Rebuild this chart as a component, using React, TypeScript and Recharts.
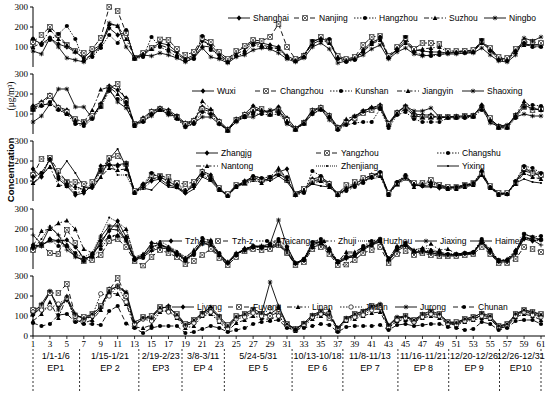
import React from "react";
import { LineChart, Line, XAxis, YAxis } from "recharts";

// x categories (day index) and ticks
const days = [
  1, 2, 3, 4, 5, 6, 7, 8, 9, 10, 11, 12, 13, 14, 15, 16, 17, 18, 19, 20, 21, 22, 23, 24, 25, 26, 27, 28, 29, 30,
  31, 32, 33, 34, 35, 36, 37, 38, 39, 40, 41, 42, 43, 44, 45, 46, 47, 48, 49, 50, 51, 52, 53, 54, 55, 56, 57, 58,
  59, 60, 61,
];
const oddTicks = [
  1, 3, 5, 7, 9, 11, 13, 15, 17, 19, 21, 23, 25, 27, 29, 31, 33, 35, 37, 39, 41, 43, 45, 47, 49, 51, 53, 55, 57, 59, 61,
];
const yTicks = [0, 100, 200, 300];

// episode separators and labels (bottom axis); edges 1 and 61 are drawn with the day ticks
const epSeparators = [6.5, 13.5, 18.6, 23.6, 31.6, 37.6, 44.1, 50.1, 56.1];
const epCenters = [3.7, 10.1, 16.1, 21.1, 27.6, 34.6, 40.8, 47.1, 53.1, 58.6];
const epDates = [
  "1/1-1/6", "1/15-1/21", "2/19-2/23", "3/8-3/11", "5/24-5/31",
  "10/13-10/18", "11/8-11/13", "11/16-11/21", "12/20-12/26", "12/26-12/31",
];
const epNames = ["EP1", "EP 2", "EP3", "EP 4", "EP 5", "EP 6", "EP 7", "EP 8", "EP 9", "EP10"];

// panel 1
const shanghai = [140,115,145,115,100,75,45,85,110,195,160,175,45,55,95,120,110,75,40,60,130,110,65,30,75,100,125,120,110,100,55,35,60,125,145,125,45,35,45,85,125,140,50,90,130,85,80,75,75,70,75,80,80,125,90,45,40,85,115,110,115];
const nanjing = [125,160,200,160,110,80,70,90,145,300,280,170,45,70,95,138,135,90,60,75,145,125,75,40,80,105,135,130,150,215,100,40,55,125,150,130,55,40,50,110,150,155,55,100,145,90,120,120,115,80,80,80,85,130,95,50,45,90,125,125,120];
const hangzhou = [140,110,135,165,205,140,30,50,95,160,120,185,40,50,150,100,80,50,30,40,155,85,60,25,55,70,110,100,95,95,45,30,50,130,140,140,40,25,35,75,115,150,45,90,150,75,60,55,60,70,70,70,75,135,80,35,30,80,120,100,100];
const suzhou = [100,120,185,140,110,80,40,60,100,215,205,140,50,65,90,110,95,65,35,50,105,100,50,25,65,85,120,110,100,90,50,30,55,115,135,120,50,30,40,80,115,135,50,85,120,80,90,95,100,75,75,75,75,120,85,40,35,75,110,105,105];
const ningbo = [80,65,145,100,45,35,25,70,105,220,205,100,45,60,55,70,60,45,25,45,95,50,40,20,50,60,85,95,90,70,40,25,45,100,120,90,20,30,40,60,90,110,40,75,95,65,55,60,65,65,65,70,70,95,60,30,25,60,145,130,150];

// panel 2
const wuxi = [140,160,195,135,120,55,50,85,150,240,220,180,45,80,115,130,120,90,55,70,135,120,65,25,75,100,140,120,110,135,80,30,60,120,135,95,35,55,85,115,130,145,55,110,140,100,95,95,80,85,85,85,90,145,75,40,40,95,145,125,120];
const changzhou = [125,150,190,130,110,75,60,90,140,230,250,165,50,70,110,125,110,85,50,65,125,110,60,20,70,95,120,125,100,120,70,25,55,115,130,90,30,60,80,105,120,135,50,105,130,90,85,85,85,85,85,90,90,130,80,35,35,90,135,120,125];
const kunshan = [120,140,160,120,100,50,40,75,135,215,175,160,45,60,100,120,100,75,35,50,110,100,50,15,65,90,100,100,95,100,55,20,50,100,120,85,20,45,55,60,60,125,30,95,110,75,60,60,60,80,80,80,85,120,65,30,30,80,135,145,140];
const jiangyin = [135,145,150,125,100,70,60,120,222,235,200,150,40,65,100,120,115,80,45,60,165,125,55,20,70,85,115,120,100,115,65,25,55,115,125,90,25,75,90,115,135,140,45,100,125,95,85,85,85,85,85,90,90,140,70,35,35,95,165,130,120];
const shaoxing = [60,90,150,225,225,135,135,80,150,225,160,130,50,65,90,125,95,90,35,55,85,85,50,20,60,85,85,105,120,120,50,25,55,100,125,70,30,50,90,115,130,130,45,105,140,115,115,130,85,85,90,90,95,135,55,40,45,85,100,90,90];

// panel 3
const zhangjg = [160,120,215,110,75,30,40,80,175,180,180,190,45,85,100,110,80,70,40,90,150,130,60,30,75,100,120,100,110,145,160,30,55,110,120,90,30,60,85,110,130,140,35,90,120,80,75,75,65,65,65,75,85,145,70,35,35,95,150,140,125];
const yangzhou = [130,210,215,150,95,95,85,95,150,215,225,185,50,70,130,125,120,90,85,95,145,110,65,35,80,90,110,105,115,140,105,35,60,100,110,85,35,80,95,115,125,135,40,85,115,90,90,105,80,70,70,80,90,135,75,40,40,90,165,140,130];
const changshu = [120,140,210,120,85,40,50,70,150,180,175,185,40,80,140,120,95,80,50,80,130,105,60,25,75,95,125,115,120,130,120,30,40,150,125,80,30,50,70,90,120,145,35,95,130,80,75,85,75,65,70,80,90,150,70,35,35,100,175,165,140];
const nantong = [90,130,170,80,75,75,55,75,120,165,155,160,40,75,110,120,100,70,45,75,140,120,55,25,70,90,115,90,120,165,110,30,50,90,100,70,30,60,80,100,120,125,30,85,120,70,85,95,70,60,60,70,80,130,65,30,35,85,140,120,110];
const zhenjiang = [110,145,200,130,100,60,60,85,160,200,130,130,45,60,100,130,110,85,60,85,145,120,60,30,70,85,100,95,105,150,110,35,55,95,110,80,40,70,90,105,110,120,40,80,110,85,85,95,80,70,65,75,85,140,70,35,40,95,165,150,135];
const yixing = [85,125,175,140,200,140,70,60,120,210,260,170,50,65,55,100,70,65,35,60,120,100,55,30,75,90,125,115,100,125,95,40,60,85,75,70,35,60,75,95,125,145,40,100,120,90,70,70,70,70,70,80,85,130,65,35,40,90,110,95,90];

// panel 4
const tzhJ = [120,115,150,140,145,110,55,60,140,190,240,160,50,70,130,125,100,75,45,80,140,110,60,25,75,100,115,110,110,130,85,25,45,120,135,90,30,55,60,100,125,140,45,100,120,85,85,90,80,70,70,75,80,140,85,40,40,80,150,140,150];
const tzhZ = [95,120,80,75,196,130,40,45,70,140,150,110,40,17,60,95,80,60,25,40,70,100,55,20,60,90,100,95,100,120,80,20,35,100,110,75,20,22,45,80,95,110,30,75,90,70,80,70,65,65,65,70,75,110,75,30,30,50,110,100,85];
const taicang = [110,120,145,115,115,80,40,60,100,160,165,150,45,55,110,120,95,70,40,70,155,140,80,30,70,95,110,105,125,150,110,30,50,135,150,100,40,60,70,115,140,150,55,110,130,90,95,90,85,75,75,80,85,150,95,45,45,90,175,160,165];
const zhuji = [115,190,200,229,242,199,100,80,120,165,170,200,55,75,95,115,110,85,55,95,150,145,70,35,70,105,110,110,120,145,105,30,45,110,130,105,35,85,85,110,120,140,50,115,120,95,105,126,95,100,75,80,85,135,100,40,50,95,160,150,150];
const huzhou = [100,150,215,170,125,75,60,80,170,257,235,200,60,75,120,140,115,90,60,90,130,120,65,30,80,100,115,110,115,135,90,30,50,125,140,95,35,70,85,110,130,145,45,105,125,95,105,100,85,75,75,80,85,140,90,40,45,90,155,145,140];
const jiaxing = [105,120,140,140,115,60,45,70,160,215,215,140,50,65,110,125,105,80,50,80,125,125,70,30,75,95,115,115,125,245,113,30,50,130,135,90,35,60,70,105,125,150,45,100,130,85,85,80,75,70,75,80,80,140,85,45,40,85,175,160,145];
const haimei = [170,125,210,170,95,65,40,75,125,200,195,140,45,60,90,105,100,75,45,75,140,130,75,35,80,90,110,115,110,120,80,25,45,110,120,85,30,50,70,95,120,135,40,90,115,80,90,80,70,70,70,75,80,130,80,35,35,75,160,145,120];

// panel 5
const liyang = [105,145,220,150,180,100,90,95,140,235,245,215,55,85,100,135,150,100,50,70,115,140,90,40,95,105,120,105,110,140,55,35,60,95,115,100,40,85,100,115,140,155,50,90,95,75,100,115,105,65,60,80,85,105,95,45,55,105,125,110,100];
const fuyang = [130,150,215,215,260,100,95,110,150,230,290,200,50,95,100,145,140,110,60,80,110,130,95,55,100,110,130,110,100,120,60,35,60,100,120,90,30,85,110,120,150,150,45,85,100,80,105,120,110,70,70,85,95,110,100,50,60,110,130,120,110];
const linan = [75,110,170,90,200,80,65,80,130,215,210,160,45,40,55,120,130,90,40,50,100,110,70,25,65,80,100,90,80,105,45,25,50,85,100,128,30,75,85,100,115,120,40,75,80,70,90,100,90,60,55,70,80,90,85,40,45,95,110,100,80];
const jintan = [120,130,140,160,190,75,80,100,211,200,250,170,60,85,75,130,120,95,50,65,105,120,75,35,85,95,115,100,140,100,50,30,55,95,110,100,35,80,95,105,130,140,40,80,90,70,95,110,100,60,55,75,85,100,90,40,50,100,120,105,95];
const jurong = [110,160,225,130,195,110,85,110,145,225,250,220,70,90,90,140,145,105,55,80,115,145,100,50,95,110,135,115,270,150,60,35,65,105,125,105,40,90,110,125,150,160,55,95,100,80,110,125,110,70,65,85,95,115,100,50,60,110,130,120,105];
const chunan = [65,50,60,105,110,70,60,60,55,125,150,62,40,15,40,50,50,50,15,20,35,50,40,20,30,40,60,70,75,80,40,30,40,50,60,55,20,45,50,50,50,55,30,55,60,50,55,60,60,45,40,30,35,70,60,30,40,75,80,80,60];

type Shape = "diamond" | "square" | "circle" | "triangle" | "star" | "plus" | "ring" | "dot";
type Series = { name: string; values: number[]; dash?: string; shape: Shape; lx: number; ly: number };

const SOLID = undefined;
const DASH = "5 3";
const DOT = "1.5 1.5";
const DASHDOT = "5 2 1.5 2";
const FINEDOT = "1 1";

const panels: { top: number; series: Series[] }[] = [
  {
    top: 7,
    series: [
      { name: "Shanghai", values: shanghai, dash: SOLID, shape: "diamond", lx: 228, ly: 18 },
      { name: "Nanjing", values: nanjing, dash: DASH, shape: "square", lx: 294, ly: 18 },
      { name: "Hangzhou", values: hangzhou, dash: DOT, shape: "circle", lx: 354, ly: 18 },
      { name: "Suzhou", values: suzhou, dash: DASHDOT, shape: "triangle", lx: 424, ly: 18 },
      { name: "Ningbo", values: ningbo, dash: SOLID, shape: "star", lx: 484, ly: 18 },
    ],
  },
  {
    top: 74,
    series: [
      { name: "Wuxi", values: wuxi, dash: SOLID, shape: "diamond", lx: 192, ly: 91 },
      { name: "Changzhou", values: changzhou, dash: DASH, shape: "square", lx: 255, ly: 91 },
      { name: "Kunshan", values: kunshan, dash: DOT, shape: "circle", lx: 330, ly: 91 },
      { name: "Jiangyin", values: jiangyin, dash: DASHDOT, shape: "triangle", lx: 397, ly: 91 },
      { name: "Shaoxing", values: shaoxing, dash: SOLID, shape: "star", lx: 462, ly: 91 },
    ],
  },
  {
    top: 141,
    series: [
      { name: "Zhangjg", values: zhangjg, dash: SOLID, shape: "diamond", lx: 196, ly: 153 },
      { name: "Yangzhou", values: yangzhou, dash: DASH, shape: "square", lx: 316, ly: 153 },
      { name: "Changshu", values: changshu, dash: DOT, shape: "circle", lx: 437, ly: 153 },
      { name: "Nantong", values: nantong, dash: DASHDOT, shape: "triangle", lx: 196, ly: 166 },
      { name: "Zhenjiang", values: zhenjiang, dash: FINEDOT, shape: "dot", lx: 316, ly: 166 },
      { name: "Yixing", values: yixing, dash: SOLID, shape: "dot", lx: 437, ly: 166 },
    ],
  },
  {
    top: 209,
    series: [
      { name: "Tzh-j", values: tzhJ, dash: SOLID, shape: "diamond", lx: 160, ly: 241 },
      { name: "Tzh-z", values: tzhZ, dash: DASH, shape: "square", lx: 207, ly: 241 },
      { name: "Taicang", values: taicang, dash: DOT, shape: "circle", lx: 256, ly: 241 },
      { name: "Zhuji", values: zhuji, dash: DASHDOT, shape: "triangle", lx: 313, ly: 241 },
      { name: "Huzhou", values: huzhou, dash: FINEDOT, shape: "dot", lx: 358, ly: 241 },
      { name: "Jiaxing", values: jiaxing, dash: SOLID, shape: "star", lx: 415, ly: 241 },
      { name: "Haimei", values: haimei, dash: SOLID, shape: "plus", lx: 470, ly: 241 },
    ],
  },
  {
    top: 276,
    series: [
      { name: "Liyang", values: liyang, dash: SOLID, shape: "diamond", lx: 172, ly: 307 },
      { name: "Fuyang", values: fuyang, dash: DASH, shape: "square", lx: 228, ly: 307 },
      { name: "Linan", values: linan, dash: DASHDOT, shape: "triangle", lx: 287, ly: 307 },
      { name: "Jintan", values: jintan, dash: DOT, shape: "ring", lx: 340, ly: 307 },
      { name: "Jurong", values: jurong, dash: SOLID, shape: "star", lx: 395, ly: 307 },
      { name: "Chunan", values: chunan, dash: DASH, shape: "circle", lx: 453, ly: 307 },
    ],
  },
];

const PLOT_H = 60;
const BOTTOM_AXIS_H = 57;
const SERIF = "'Liberation Serif', 'Times New Roman', serif";
const SANS = "'Liberation Sans', Arial, sans-serif";
const TICK_FONT = { fontSize: 9, fill: "#000", fontFamily: SERIF };

function Marker({ shape, cx, cy }: { shape: Shape; cx: number; cy: number }) {
  const s = 2.3;
  switch (shape) {
    case "diamond":
      return <polygon points={`${cx},${cy - s - 0.5} ${cx + s},${cy} ${cx},${cy + s + 0.5} ${cx - s},${cy}`} fill="#000" />;
    case "square":
      return (
        <g stroke="#000" strokeWidth={0.6}>
          <rect x={cx - s} y={cy - s} width={2 * s} height={2 * s} fill="#fff" />
          <line x1={cx - s} y1={cy - s} x2={cx + s} y2={cy + s} />
          <line x1={cx - s} y1={cy + s} x2={cx + s} y2={cy - s} />
        </g>
      );
    case "circle":
      return <circle cx={cx} cy={cy} r={2.1} fill="#000" />;
    case "ring":
      return <circle cx={cx} cy={cy} r={2.2} fill="#fff" stroke="#000" strokeWidth={0.7} />;
    case "triangle":
      return <polygon points={`${cx},${cy - s - 0.3} ${cx + s},${cy + s - 0.3} ${cx - s},${cy + s - 0.3}`} fill="#000" />;
    case "star":
      return (
        <g stroke="#000" strokeWidth={0.8}>
          <line x1={cx - s} y1={cy} x2={cx + s} y2={cy} />
          <line x1={cx} y1={cy - s} x2={cx} y2={cy + s} />
          <line x1={cx - s * 0.75} y1={cy - s * 0.75} x2={cx + s * 0.75} y2={cy + s * 0.75} />
          <line x1={cx - s * 0.75} y1={cy + s * 0.75} x2={cx + s * 0.75} y2={cy - s * 0.75} />
        </g>
      );
    case "plus":
      return (
        <g stroke="#000" strokeWidth={0.8}>
          <line x1={cx - s} y1={cy} x2={cx + s} y2={cy} />
          <line x1={cx} y1={cy - s} x2={cx} y2={cy + s} />
        </g>
      );
    default:
      return <circle cx={cx} cy={cy} r={1.1} fill="#000" />;
  }
}

// bottom axis: day numbers, episode dates/names and dashed separators
function BottomTick(props: any) {
  const { x, y, payload } = props;
  const v = payload.value;
  const ci = epCenters.indexOf(v);
  if (ci >= 0) {
    return (
      <g fontFamily={SANS} fontSize={9} fill="#000" textAnchor="middle">
        <text x={x} y={y + 23}>{epDates[ci]}</text>
        <text x={x} y={y + 35}>{epNames[ci]}</text>
      </g>
    );
  }
  if (epSeparators.indexOf(v) >= 0) {
    return <line x1={x} y1={y + 13} x2={x} y2={y + 57} stroke="#000" strokeWidth={0.8} strokeDasharray="2 2" />;
  }
  const edge = v === 1 || v === 61;
  return (
    <g>
      <line x1={x} y1={y} x2={x} y2={y + 3} stroke="#000" strokeWidth={0.8} />
      <text x={x} y={y + 11} textAnchor="middle" fontSize={9} fontFamily={SERIF} fill="#000">
        {v}
      </text>
      {edge && <line x1={x} y1={y + 13} x2={x} y2={y + 57} stroke="#000" strokeWidth={0.8} strokeDasharray="2 2" />}
    </g>
  );
}

function Panel({ top, series, bottom }: { top: number; series: Series[]; bottom: boolean }) {
  const data = days.map((d, i) => {
    const row: Record<string, number> = { day: d };
    series.forEach((s) => (row[s.name] = s.values[i]));
    return row;
  });
  const height = bottom ? 5 + PLOT_H + BOTTOM_AXIS_H : 5 + PLOT_H + 3;
  return (
    <div style={{ position: "absolute", left: 0, top: top - 5 }}>
      <LineChart width={550} height={height} data={data} margin={{ top: 5, right: 5, left: 0, bottom: bottom ? 0 : 3 }}>
        {bottom ? (
          <XAxis
            dataKey="day"
            type="number"
            domain={[1, 61]}
            ticks={[...oddTicks, ...epSeparators, ...epCenters]}
            interval={0}
            padding={{ left: 0, right: 4 }}
            height={BOTTOM_AXIS_H}
            tick={<BottomTick />}
            tickSize={0}
            tickMargin={0}
            tickLine={false}
            axisLine={{ stroke: "#000" }}
          />
        ) : (
          <XAxis
            dataKey="day"
            type="number"
            domain={[1, 61]}
            ticks={oddTicks}
            interval={0}
            padding={{ left: 0, right: 4 }}
            height={0}
            tick={false}
            tickSize={3}
            axisLine={{ stroke: "#000" }}
            tickLine={{ stroke: "#000" }}
          />
        )}
        <XAxis
          xAxisId="top"
          orientation="top"
          dataKey="day"
          type="number"
          domain={[1, 61]}
          height={0}
          tick={false}
          tickLine={false}
          axisLine={{ stroke: "#8a8a8a" }}
        />
        <YAxis
          domain={[0, 300]}
          ticks={yTicks}
          width={33}
          tick={TICK_FONT}
          tickSize={3}
          tickMargin={2}
          axisLine={{ stroke: "#000" }}
          tickLine={{ stroke: "#000" }}
        />
        <YAxis
          yAxisId="r"
          orientation="right"
          domain={[0, 300]}
          width={0}
          tick={false}
          tickLine={false}
          axisLine={{ stroke: "#8a8a8a" }}
        />
        {series.map((s) => (
          <Line
            key={s.name}
            dataKey={s.name}
            type="linear"
            stroke="#000"
            strokeWidth={0.9}
            strokeDasharray={s.dash}
            isAnimationActive={false}
            activeDot={false}
            dot={(p: any) => <Marker key={`${s.name}-${p.index}`} shape={s.shape} cx={p.cx} cy={p.cy} />}
          />
        ))}
      </LineChart>
    </div>
  );
}

function Legends() {
  const all = panels.flatMap((p) => p.series);
  return (
    <svg width={550} height={393} style={{ position: "absolute", left: 0, top: 0, pointerEvents: "none" }}>
      {all.map((s) => (
        <g key={s.name}>
          <line x1={s.lx} y1={s.ly} x2={s.lx + 22} y2={s.ly} stroke="#000" strokeWidth={0.9} strokeDasharray={s.dash} />
          <Marker shape={s.shape} cx={s.lx + 11} cy={s.ly} />
          <text x={s.lx + 25} y={s.ly + 3} fontSize={8.5} fontFamily={SANS} fill="#000">
            {s.name}
          </text>
        </g>
      ))}
      <text
        transform="translate(14,170) rotate(-90)"
        textAnchor="middle"
        fontSize={9.5}
        fontWeight="bold"
        fontFamily={SANS}
        fill="#000"
      >
        Concentration
      </text>
      <text
        transform="translate(14,96) rotate(-90)"
        textAnchor="middle"
        fontSize={9.5}
        fontFamily={SERIF}
        fill="#000"
      >
        (μg/m³)
      </text>
    </svg>
  );
}

export default function App() {
  return (
    <div style={{ position: "absolute", left: 0, top: 0, width: 550, height: 393, background: "#fff", overflow: "hidden" }}>
      {panels.map((p, i) => (
        <Panel key={i} top={p.top} series={p.series} bottom={i === panels.length - 1} />
      ))}
      <Legends />
    </div>
  );
}
